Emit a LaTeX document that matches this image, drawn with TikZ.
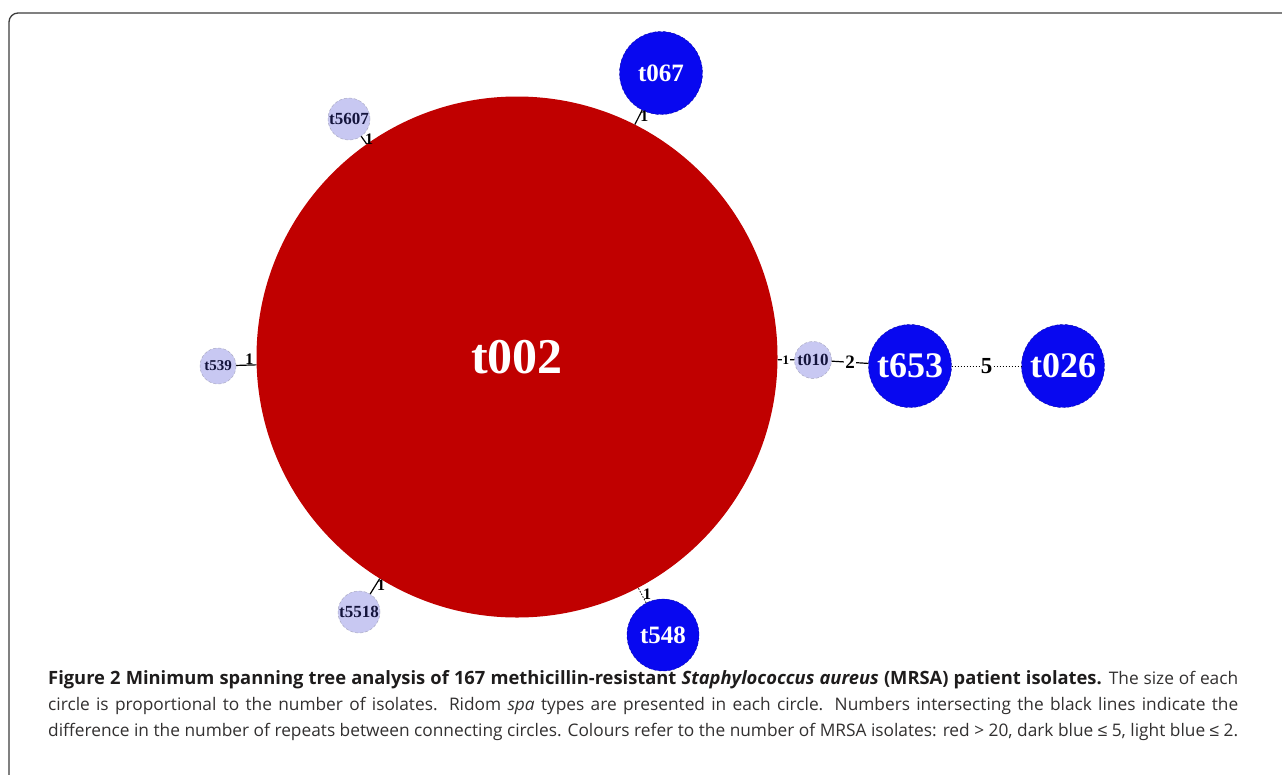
\documentclass[tikz,border=0pt]{standalone}
\usepackage{fontspec}
\setmainfont{Liberation Serif}
\newfontfamily\capfont{Open Sans}[BoldFeatures={Scale=1.06},BoldItalicFeatures={Scale=1.06}]
\newfontfamily\symfont{Liberation Sans}
\definecolor{bigred}{RGB}{192,0,0}
\definecolor{darkblue}{RGB}{8,8,240}
\definecolor{lightblue}{RGB}{200,200,242}
\definecolor{lbtext}{RGB}{20,20,60}
\definecolor{captext}{RGB}{50,48,48}
\definecolor{capbold}{RGB}{30,28,28}
\definecolor{framegray}{RGB}{60,60,60}
\tikzset{
  redc/.style={circle, fill=bigred, inner sep=0pt, text=white, font=\bfseries\fontsize{50}{50}\selectfont},
  dbc/.style={circle, fill=darkblue, draw=darkblue!70!black, densely dashed, line width=0.4pt, inner sep=0pt, text=white},
  lbc/.style={circle, fill=lightblue, draw=lightblue!60!gray, densely dashed, line width=0.5pt, inner sep=0pt, text=lbtext, font=\bfseries\fontsize{17}{17}\selectfont},
  edge/.style={draw=black, line width=1.2pt},
  dedge/.style={draw=black, line width=0.8pt, dash pattern=on 1.5pt off 1.5pt},
  lbl/.style={font=\bfseries\fontsize{16}{16}\selectfont, inner sep=1pt, text=black},
  capline/.style={anchor=base west, inner sep=0pt, text=captext, font=\capfont\fontsize{17.3}{26}\selectfont},
}
\begin{document}
\begin{tikzpicture}[x=1pt,y=-1pt]
\useasboundingbox (0,0) rectangle (1282,774);
\fill[white] (0,0) rectangle (1282,774);
% frame
\draw[framegray, line width=1.3pt, rounded corners=9pt] (9,790) -- (9,13) -- (1300,13);
% nodes
\node[redc, minimum size=521pt] (t002) at (517,357) {t002};
\node[dbc, minimum size=83pt, font=\bfseries\fontsize{25}{25}\selectfont] (t067) at (661,73) {t067};
\node[dbc, minimum size=72pt, font=\bfseries\fontsize{25}{25}\selectfont] (t548) at (663,635) {t548};
\node[dbc, minimum size=83pt, font=\bfseries\fontsize{36}{36}\selectfont] (t653) at (910,366) {t653};
\node[dbc, minimum size=83pt, font=\bfseries\fontsize{36}{36}\selectfont] (t026) at (1063,366) {t026};
\node[lbc, minimum size=42pt] (t5607) at (349,119) {t5607};
\node[lbc, minimum size=42pt] (t5518) at (359,612) {t5518};
\node[lbc, minimum size=36pt, font=\bfseries\fontsize{15}{15}\selectfont] (t539) at (218,366) {t539};
\node[lbc, minimum size=37pt] (t010) at (813,360) {t010};
% edges
\draw[edge] (t5607) -- node[lbl, right, pos=0.4] {1} (t002);
\draw[edge] (t067) -- node[lbl, right, pos=0.45] {1} (t002);
\draw[edge] (t539) -- node[lbl, above, pos=0.65, yshift=-1pt] {1} (t002);
\draw[edge] (t5518) -- node[lbl, right, pos=0.55] {1} (t002);
\draw[dedge] (t548) -- node[lbl, right, pos=0.55] {1} (t002);
\draw[edge] (t002) -- node[lbl, fill=white, font=\bfseries\fontsize{13}{13}\selectfont, inner sep=0.8pt] {1} (t010);
\draw[edge] (t010) -- node[lbl, fill=white, font=\bfseries\fontsize{19}{19}\selectfont, inner sep=1.5pt] {2} (t653);
\draw[dedge] (t653) -- node[lbl, fill=white, font=\bfseries\fontsize{23}{23}\selectfont, inner sep=1pt] {5} (t026);
% caption
\node[capline] (cap1) at (48,684) {\makebox[1190pt][s]{{\color{capbold}\bfseries Figure 2 Minimum spanning tree analysis of 167 methicillin-resistant \textit{Staphylococcus aureus} (MRSA) patient isolates.} The size of each}};
\node[capline] (cap2) at (48,710) {\makebox[1190pt][s]{circle is proportional to the number of isolates. Ridom \textit{spa} types are presented in each circle. Numbers intersecting the black lines indicate the}};
\node[capline] (cap3) at (48,736) {\makebox[1190pt][s]{difference in the number of repeats between connecting circles. Colours refer to the number of MRSA isolates: red > 20, dark blue {\symfont ≤} 5, light blue {\symfont ≤} 2.}};
\end{tikzpicture}
\end{document}
